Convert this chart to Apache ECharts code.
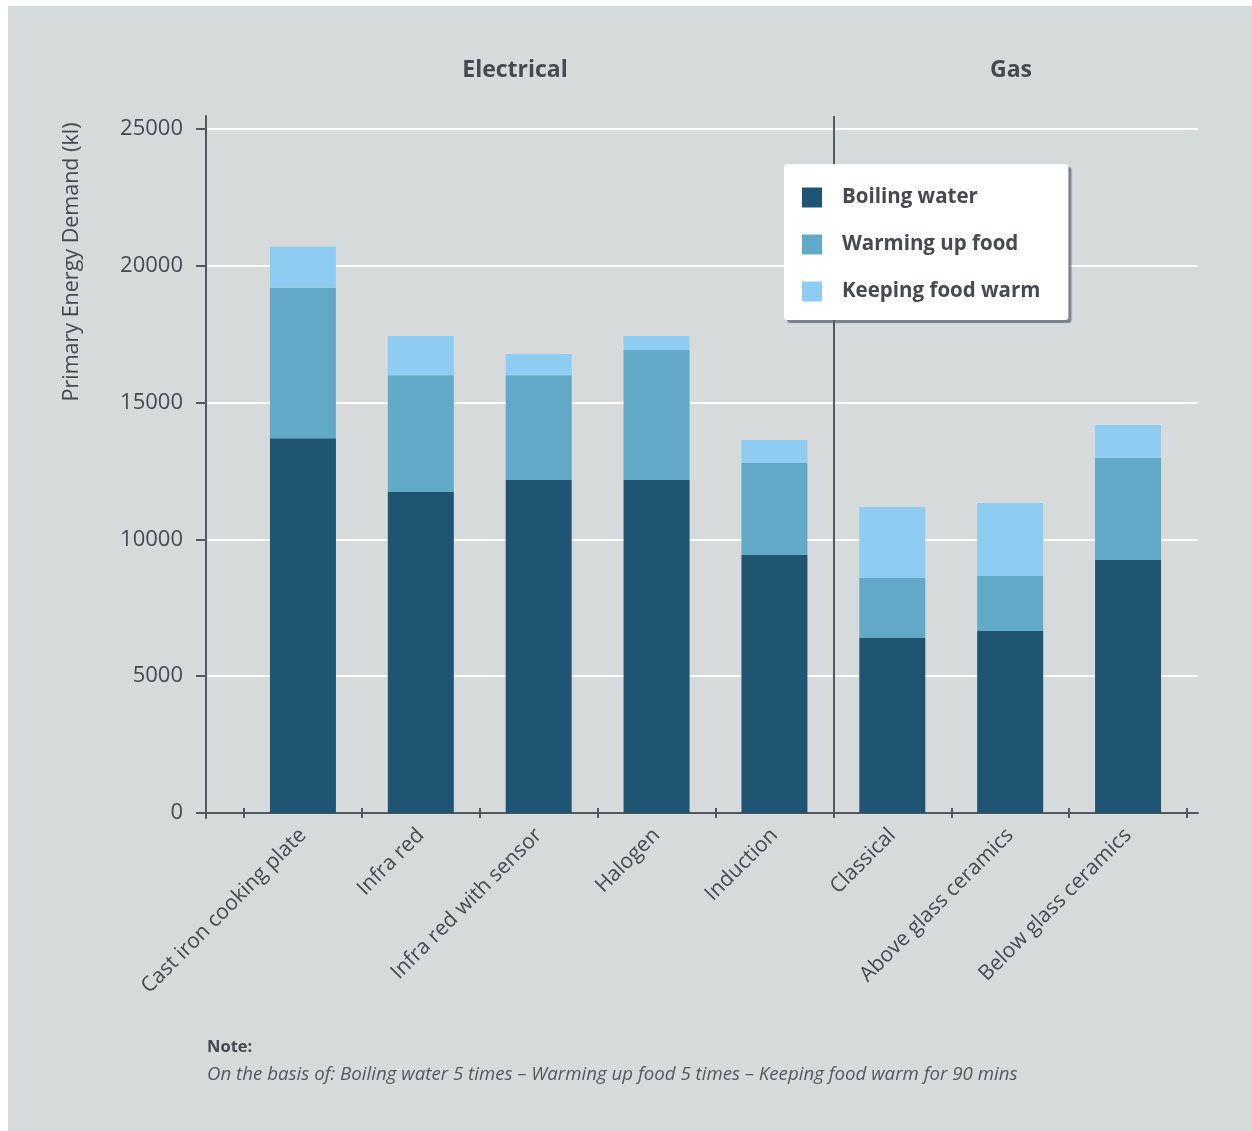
<!DOCTYPE html>
<html>
<head>
<meta charset="utf-8">
<script src="https://cdn.jsdelivr.net/npm/echarts@6/dist/echarts.min.js"></script>
<style>
  html, body { margin: 0; padding: 0; background: #ffffff; }
  #chart { position: absolute; left: 8px; top: 6px; width: 1244px; height: 1125px; }
</style>
</head>
<body>
<div id="chart"></div>
<script>
// Primary energy demand per hob type, split by use case (kl)
const categories = [
  'Cast iron cooking plate', 'Infra red', 'Infra red with sensor', 'Halogen',
  'Induction', 'Classical', 'Above glass ceramics', 'Below glass ceramics'
];
const boilingWater    = [13700, 11730, 12170, 12170, 9430, 6400, 6650, 9250];
const warmingUpFood   = [5500, 4270, 3830, 4750, 3360, 2190, 2010, 3730];
const keepingFoodWarm = [1500, 1430, 780, 510, 840, 2590, 2670, 1200];
const yTicks = [0, 5000, 10000, 15000, 20000, 25000];
const groupLabels = ['Electrical', 'Gas'];
// number of electrical hob types; the gas group starts after them
const electricalCount = 5;
const noteTitle = 'Note:';
const noteText = 'On the basis of: Boiling water 5 times \u2013 Warming up food 5 times \u2013 Keeping food warm for 90 mins';

const FONT = '"Open Sans", Lato, sans-serif';
const TEXT = '#46494e';
const AXIS = '#55595d';
const COLORS = ['#1f5472', '#62a8c7', '#8ecdf1'];

const chart = echarts.init(document.getElementById('chart'));

const yMin = yTicks[0];
const yMax = yTicks[yTicks.length - 1];
const yStep = yTicks[1] - yTicks[0];

function barSeries(name, data, color) {
  return {
    name: name,
    type: 'bar',
    stack: 'total',
    xAxisIndex: 0,
    yAxisIndex: 0,
    barWidth: 66,
    itemStyle: { color: color },
    emphasis: { disabled: true },
    data: data
  };
}

chart.setOption({
  backgroundColor: '#d6dadb',
  animation: false,
  textStyle: { fontFamily: FONT, color: TEXT },
  grid: [
    // bars
    { left: 236, right: 65, top: 123, bottom: 318 },
    // gridlines, value labels and baseline
    { left: 198, right: 54, top: 123, bottom: 318 },
    // vertical axis line, category ticks and the group separator
    { left: 236, right: 65, top: 110, bottom: 313 }
  ],
  xAxis: [
    {
      gridIndex: 0,
      type: 'category',
      data: categories,
      axisLine: { show: false },
      axisTick: { show: false },
      axisLabel: {
        interval: 0,
        rotate: 45,
        margin: 19,
        fontSize: 21,
        color: TEXT,
        fontFamily: FONT
      }
    },
    {
      gridIndex: 1,
      type: 'value',
      min: 0,
      max: 1,
      axisLine: { show: true, lineStyle: { color: AXIS, width: 2 } },
      axisTick: { show: false },
      axisLabel: { show: false },
      splitLine: { show: false }
    },
    {
      // category boundary ticks crossing the baseline
      gridIndex: 2,
      type: 'value',
      min: 0,
      max: categories.length,
      interval: 1,
      axisLine: { show: false },
      axisTick: {
        show: true,
        inside: true,
        length: 10,
        lineStyle: { color: AXIS, width: 2 }
      },
      axisLabel: { show: false },
      splitLine: { show: false }
    },
    {
      // separator between the electrical and gas groups
      gridIndex: 2,
      type: 'value',
      min: 0,
      max: categories.length,
      interval: electricalCount,
      axisLine: { show: false },
      axisTick: { show: false },
      axisLabel: { show: false },
      splitLine: {
        show: true,
        showMinLine: false,
        showMaxLine: false,
        lineStyle: { color: AXIS, width: 2 }
      }
    }
  ],
  yAxis: [
    {
      gridIndex: 0,
      type: 'value',
      min: yMin,
      max: yMax,
      interval: yStep,
      axisLine: { show: false },
      axisTick: { show: false },
      axisLabel: { show: false },
      splitLine: { show: false }
    },
    {
      gridIndex: 1,
      type: 'value',
      min: yMin,
      max: yMax,
      interval: yStep,
      axisLine: { show: false },
      axisTick: { show: true, length: 10, lineStyle: { color: AXIS, width: 2 } },
      axisLabel: {
        margin: 23,
        fontSize: 22,
        color: TEXT,
        fontFamily: FONT,
        formatter: function (v) { return String(v); }
      },
      splitLine: { show: true, lineStyle: { color: '#ffffff', width: 2 } }
    },
    {
      gridIndex: 2,
      type: 'value',
      offset: 38,
      axisLine: { show: true, onZero: false, lineStyle: { color: AXIS, width: 2 } },
      axisTick: { show: false },
      axisLabel: { show: false },
      splitLine: { show: false }
    }
  ],
  legend: {
    left: 776,
    top: 158,
    orient: 'vertical',
    itemWidth: 20,
    itemHeight: 20,
    itemGap: 26,
    padding: [23, 28, 18, 18],
    backgroundColor: '#ffffff',
    borderRadius: 3,
    shadowColor: 'rgba(90,100,110,0.75)',
    shadowOffsetX: 3,
    shadowOffsetY: 3,
    shadowBlur: 1,
    selectedMode: false,
    icon: 'rect',
    textStyle: {
      fontFamily: FONT,
      fontSize: 20.5,
      fontWeight: 'bold',
      color: TEXT,
      padding: [0, 0, 0, 15]
    },
    data: ['Boiling water', 'Warming up food', 'Keeping food warm']
  },
  graphic: [
    {
      type: 'text', x: 507, y: 64,
      style: { text: groupLabels[0], fill: TEXT, font: 'bold 23px ' + FONT, align: 'center', verticalAlign: 'middle' }
    },
    {
      type: 'text', x: 1003, y: 64,
      style: { text: groupLabels[1], fill: TEXT, font: 'bold 23px ' + FONT, align: 'center', verticalAlign: 'middle' }
    },
    {
      type: 'text', x: 64, y: 256, rotation: Math.PI / 2,
      style: { text: 'Primary Energy Demand (kl)', fill: TEXT, font: '21.5px ' + FONT, align: 'center', verticalAlign: 'middle' }
    },
    {
      type: 'text', x: 199, y: 1041,
      style: { text: noteTitle, fill: TEXT, font: 'bold 16.5px ' + FONT, align: 'left', verticalAlign: 'middle' }
    },
    {
      type: 'text', x: 199, y: 1069,
      style: { text: noteText, fill: '#55585c', font: 'italic 18.7px ' + FONT, align: 'left', verticalAlign: 'middle' }
    }
  ],
  series: [
    barSeries('Boiling water', boilingWater, COLORS[0]),
    barSeries('Warming up food', warmingUpFood, COLORS[1]),
    barSeries('Keeping food warm', keepingFoodWarm, COLORS[2])
  ]
});
</script>
</body>
</html>
